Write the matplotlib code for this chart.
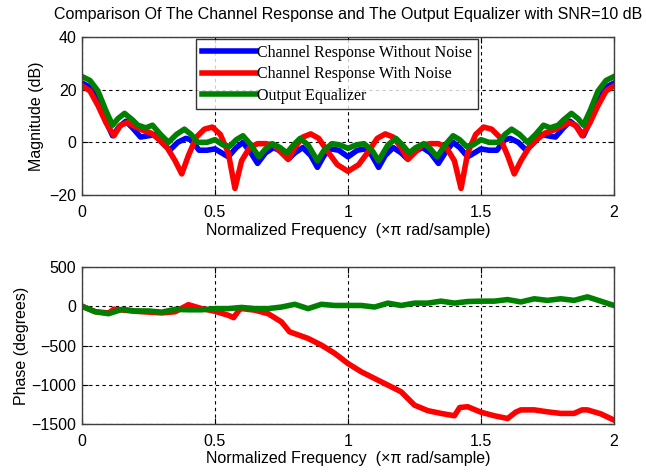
import matplotlib
matplotlib.use("Agg")
import matplotlib.pyplot as plt

# ---------------- data ----------------
blue_mag_x = [0, .03, .06, .09, .115, .14, .165, .19, .22, .25, .275, .30, .33, .36, .39, .41, .44, .47, .50, .525,
              .55, .58, .605, .635, .66, .69, .72, .75, .78, .80, .83, .86, .885, .91, .935, .965, 1.0,
              1.035, 1.065, 1.09, 1.115, 1.14, 1.17, 1.20, 1.22, 1.25, 1.28, 1.31, 1.34, 1.365, 1.395, 1.42,
              1.45, 1.475, 1.50, 1.53, 1.56, 1.59, 1.61, 1.64, 1.67, 1.70, 1.725, 1.75, 1.78, 1.81, 1.835,
              1.86, 1.885, 1.91, 1.94, 1.97, 2.0]
blue_mag_db = [22.5, 21, 16, 8, 2.5, 6, 8, 5.5, 2, 2.5, 3, 0, -3, 0, 1.5, 1, -3, -3, -2.5, -4,
               -5.5, -2, 0, -4, -8, -4, -2, -3.5, -6, -4, -2, -5, -9.5, -5, -2.5, -3, -5.5,
               -3, -2.5, -5, -9.5, -5, -2, -4, -6, -3.5, -2, -4, -8, -4, 0, -2,
               -5.5, -4, -2.5, -3, -3, 1, 1.5, 0, -3, 0, 3, 2.5, 2, 5.5, 8,
               6, 2.5, 8, 16, 21, 22.5]

red_mag_x = [0, .03, .06, .09, .12, .145, .17, .20, .23, .26, .29, .32, .35, .375, .40, .43, .46, .49, .52, .55,
             .575, .60, .63, .66, .69, .72, .75, .775, .80, .83, .86, .89, .92, .96, 1.0,
             1.04, 1.08, 1.11, 1.14, 1.17, 1.20, 1.225, 1.25, 1.28, 1.31, 1.34, 1.37, 1.40, 1.425, 1.45,
             1.48, 1.51, 1.54, 1.57, 1.60, 1.625, 1.65, 1.68, 1.71, 1.74, 1.77, 1.80, 1.83, 1.855, 1.88,
             1.91, 1.94, 1.97, 2.0]
red_mag_db = [21.5, 19.5, 14, 7.5, 2.5, 6.5, 7.5, 6, 4.5, 3.5, 1, -2, -7, -12, -5, 2, 5, 5.8, 3, -4,
              -17.5, -7, -2, -0.5, -0.5, -1, -4, -6.5, -2, 2, 3.2, 1.5, -3, -8.5, -11,
              -8.5, -3, 1.5, 3.2, 2, -2, -6.5, -4, -1, -0.5, -0.5, -2, -7, -17.5, -4,
              3, 5.8, 5, 2, -5, -12, -7, -2, 1, 3.5, 4.5, 6, 7.5, 6.5, 2.5,
              7.5, 14, 19.5, 21.5]

green_mag_x = [0, .03, .06, .09, .115, .135, .16, .19, .21, .24, .265, .295, .325, .355, .385, .41, .435, .47, .50,
               .53, .555, .58, .605, .635, .665, .69, .715, .745, .77, .795, .82, .85, .885, .91, .94, .97, 1.0,
               1.03, 1.06, 1.09, 1.115, 1.15, 1.18, 1.205, 1.23, 1.255, 1.285, 1.31, 1.335, 1.365, 1.395, 1.42,
               1.445, 1.47, 1.50, 1.53, 1.565, 1.59, 1.615, 1.645, 1.675, 1.705, 1.735, 1.76, 1.79, 1.81, 1.84,
               1.865, 1.885, 1.91, 1.94, 1.97, 2.0]
green_mag_db = [25, 23.5, 19.5, 12, 6.5, 9, 11, 8.5, 6.5, 5.5, 6.5, 3, 0, 3, 5, 3, 0, 0, 1,
                -1, -1.5, 1, 2.5, -1, -5.5, -2.5, -0.5, -2, -4, -1, 1.5, -1, -7, -3, -0.5, -1, -2.3,
                -1, -0.5, -3, -7, -1, 1.5, -1, -4, -2, -0.5, -2.5, -5.5, -1, 2.5, 1,
                -1.5, -1, 1, 0, 0, 3, 5, 3, 0, 3, 6.5, 5.5, 6.5, 8.5, 11,
                9, 6.5, 12, 19.5, 23.5, 25]

red_ph_x = [0, .05, .10, .12, .20, .30, .35, .40, .45, .50, .55, .57, .59, .60, .65, .70, .75, .78, .85, .90,
            .95, 1.0, 1.05, 1.10, 1.15, 1.20, 1.25, 1.30, 1.35, 1.40, 1.42, 1.45, 1.50, 1.55, 1.60, 1.63,
            1.65, 1.70, 1.75, 1.80, 1.85, 1.88, 1.90, 1.95, 2.0]
red_ph_deg = [0, -70, -85, -38, -64, -85, -70, 20, -30, -64, -115, -145, -50, -30, -50, -95, -200, -325, -410, -495,
              -600, -730, -835, -920, -1005, -1090, -1260, -1330, -1365, -1395, -1290, -1280, -1350, -1395, -1430, -1350,
              -1320, -1320, -1345, -1365, -1365, -1320, -1320, -1370, -1450]

green_ph_x = [0, .05, .10, .15, .20, .25, .30, .35, .40, .45, .50, .55, .60, .65, .70, .75, .80, .85, .90, .95,
              1.0, 1.05, 1.10, 1.15, 1.20, 1.25, 1.30, 1.35, 1.40, 1.45, 1.50, 1.55, 1.60, 1.65, 1.70, 1.75,
              1.80, 1.85, 1.90, 1.95, 2.0]
green_ph_deg = [0, -70, -95, -40, -60, -60, -75, -40, -45, -45, -30, -30, -15, -30, -30, -10, 25, -30, 25, 10,
                10, 10, -10, 40, 10, 40, 40, 65, 40, 60, 65, 65, 85, 55, 95, 75,
                95, 75, 120, 65, 10]

labels = ["Channel Response Without Noise", "Channel Response With Noise", "Output Equalizer"]
title = "Comparison Of The Channel Response and The Output Equalizer with SNR=10 dB"
xlabel = "Normalized Frequency  (\u00d7\u03c0 rad/sample)"

# ---------------- plot ----------------
plt.rcParams['font.family'] = ['Liberation Sans', 'DejaVu Sans']
fig = plt.figure(figsize=(6.46, 4.72), dpi=100)
ax1 = fig.add_axes([82/646, 1-195/472, (614-82)/646, (195-37)/472])
ax2 = fig.add_axes([82/646, 1-424/472, (614-82)/646, (424-267)/472])

lw = 4.0
cb, cr, cg = (0, 0, 1), (1, 0, 0), (0, 0.5, 0)
ax1.plot(blue_mag_x, blue_mag_db, color=cb, lw=lw, label=labels[0], solid_joinstyle='round')
ax1.plot(red_mag_x, red_mag_db, color=cr, lw=lw, label=labels[1], solid_joinstyle='round')
ax1.plot(green_mag_x, green_mag_db, color=cg, lw=lw, label=labels[2], solid_joinstyle='round')
ax2.plot(red_ph_x, red_ph_deg, color=cr, lw=lw, solid_joinstyle='round')
ax2.plot(green_ph_x, green_ph_deg, color=cg, lw=lw, solid_joinstyle='round')

ax1.set_xlim(0, 2); ax1.set_ylim(-20, 40)
ax1.set_yticks([-20, 0, 20, 40])
ax2.set_xlim(0, 2); ax2.set_ylim(-1500, 500)
ax2.set_yticks([-1500, -1000, -500, 0, 500])
for ax in (ax1, ax2):
    ax.set_xticks([0, 0.5, 1, 1.5, 2])
    ax.set_xticklabels(["0", "0.5", "1", "1.5", "2"])
    ax.grid(True, color='black', linestyle=(0, (3, 3)), linewidth=0.8)
    ax.tick_params(direction='in', length=4, labelsize=11.5, top=True, right=True)
    ax.tick_params(axis='x', pad=7)
    ax.tick_params(axis='y', pad=4)
    for s in ax.spines.values():
        s.set_color('#404040'); s.set_linewidth(1.0)
    ax.set_xlabel(xlabel, fontsize=11.5, labelpad=2)

ax1.set_ylabel("Magnitude (dB)", fontsize=11.5, labelpad=4)
ax2.set_ylabel("Phase (degrees)", fontsize=11.5, labelpad=2)
ax1.set_title(title, fontsize=11.5, pad=13)

leg = ax1.legend(loc='upper left', bbox_to_anchor=((196-82)/532, (195-39)/158),
                 prop={'family': 'Liberation Serif', 'size': 11.5}, frameon=True, fancybox=False,
                 edgecolor='black', handlelength=3.4, borderpad=0.35, labelspacing=0.35,
                 handletextpad=0.1, borderaxespad=0)
leg.get_frame().set_linewidth(1.0)

fig.savefig("out.png", dpi=100)
